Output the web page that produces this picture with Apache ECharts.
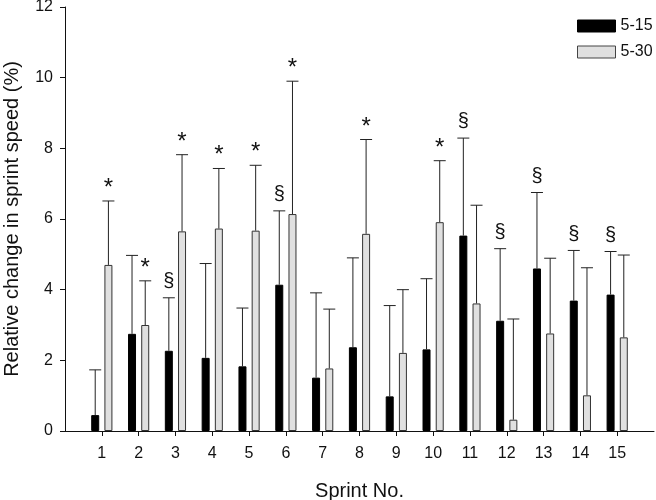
<!DOCTYPE html>
<html>
<head>
<meta charset="utf-8">
<script src="https://cdn.jsdelivr.net/npm/echarts@6/dist/echarts.min.js"></script>
<style>html,body{margin:0;padding:0;background:#fff;}#c{width:656px;height:500px;}</style>
</head>
<body>
<div id="c"></div>
<script>
const sprints = [1,2,3,4,5,6,7,8,9,10,11,12,13,14,15];
const mean515 = [0.45,2.75,2.27,2.07,1.83,4.14,1.51,2.37,0.98,2.31,5.53,3.12,4.60,3.69,3.86];
const upper515 = [1.73,4.97,3.77,4.74,3.48,6.23,3.91,4.90,3.55,4.31,8.29,5.16,6.75,5.11,5.08];
const mean530 = [4.70,3.00,5.65,5.73,5.67,6.14,1.77,5.58,2.21,5.91,3.61,0.32,2.76,1.01,2.65];
const upper530 = [6.51,4.25,7.82,7.43,7.52,9.90,3.45,8.25,4.00,7.65,6.39,3.17,4.89,4.62,4.98];
const marks515 = ['','','§','','','§','','','','','§','§','§','§','§'];
const marks530 = ['*','*','*','*','*','*','','*','','*','','','','',''];

const FONT = '"Liberation Sans", Arial, sans-serif';
// x positions 0 and 16 are empty padding slots around sprints 1..15
const xCats = [''].concat(sprints.map(String)).concat(['']);
const pad = arr => ['-'].concat(arr).concat(['-']);
const isSprintIdx = idx => idx > 0 && idx < xCats.length - 1;

function errSeries(name, means, uppers, marks, dx) {
  return {
    type: 'custom',
    name: name + '_err',
    silent: true,
    z: 5,
    data: sprints.map((s, i) => [i + 1, means[i], uppers[i]]),
    encode: { x: 0, y: 2 },
    renderItem: function (params, api) {
      const i = params.dataIndex;
      const base = api.coord([api.value(0), api.value(1)]);
      const top = api.coord([api.value(0), api.value(2)]);
      const x = base[0] + dx;
      const children = [
        { type: 'line', shape: { x1: x, y1: base[1], x2: x, y2: top[1] }, style: { stroke: '#222', lineWidth: 1 } },
        { type: 'line', shape: { x1: x - 6, y1: top[1], x2: x + 6, y2: top[1] }, style: { stroke: '#222', lineWidth: 1 } }
      ];
      const m = marks[i];
      if (m) {
        const isStar = m === '*';
        children.push({
          type: 'text',
          style: {
            text: m,
            x: x,
            y: top[1] - (isStar ? 12.6 : 16.2),
            align: 'center',
            verticalAlign: 'middle',
            fill: '#111',
            font: (isStar ? '24px ' : '20px ') + FONT
          }
        });
      }
      return { type: 'group', children: children };
    }
  };
}

const chart = echarts.init(document.getElementById('c'));
chart.setOption({
  animation: false,
  backgroundColor: '#fff',
  textStyle: { fontFamily: FONT },
  grid: { left: 65, right: 2, top: 7, bottom: 69, containLabel: false, outerBoundsMode: 'none' },
  legend: {
    orient: 'vertical',
    left: 572, top: 13,
    itemWidth: 38, itemHeight: 12, itemGap: 10,
    icon: 'rect',
    textStyle: { fontSize: 16, color: '#111', fontFamily: FONT },
    data: [
      { name: '5-15', itemStyle: { color: '#000', borderColor: '#000', borderWidth: 1 } },
      { name: '5-30', itemStyle: { color: '#e0e0e0', borderColor: '#444', borderWidth: 1 } }
    ]
  },
  xAxis: {
    type: 'category',
    data: xCats,
    boundaryGap: false,
    name: 'Sprint No.',
    nameLocation: 'middle',
    nameGap: 50,
    nameTextStyle: { fontSize: 20, color: '#111', fontFamily: FONT },
    axisLine: { show: true, onZero: false, lineStyle: { color: '#111', width: 1 } },
    axisTick: { show: true, length: 5, interval: isSprintIdx, lineStyle: { color: '#111' } },
    axisLabel: { interval: isSprintIdx, margin: 15, fontSize: 16, color: '#111', fontFamily: FONT },
    splitLine: { show: false }
  },
  yAxis: {
    type: 'value',
    min: 0, max: 12, interval: 2,
    name: 'Relative change in sprint speed (%)',
    nameLocation: 'middle',
    nameGap: 43,
    nameTextStyle: { fontSize: 20, color: '#111', fontFamily: FONT },
    axisLine: { show: true, lineStyle: { color: '#111', width: 1 } },
    axisTick: { show: true, length: 5, lineStyle: { color: '#111' } },
    axisLabel: { margin: 12, fontSize: 16, color: '#111', fontFamily: FONT },
    splitLine: { show: false }
  },
  series: [
    {
      name: '5-15', type: 'bar', barWidth: 8, barGap: '65%',
      data: pad(mean515),
      itemStyle: { color: '#000', borderColor: '#000', borderWidth: 1 }
    },
    {
      name: '5-30', type: 'bar', barWidth: 8, barGap: '65%',
      data: pad(mean530),
      itemStyle: { color: '#e0e0e0', borderColor: '#333', borderWidth: 1 }
    },
    errSeries('5-15', mean515, upper515, marks515, -6.6),
    errSeries('5-30', mean530, upper530, marks530, 6.6)
  ]
});
</script>
</body>
</html>
